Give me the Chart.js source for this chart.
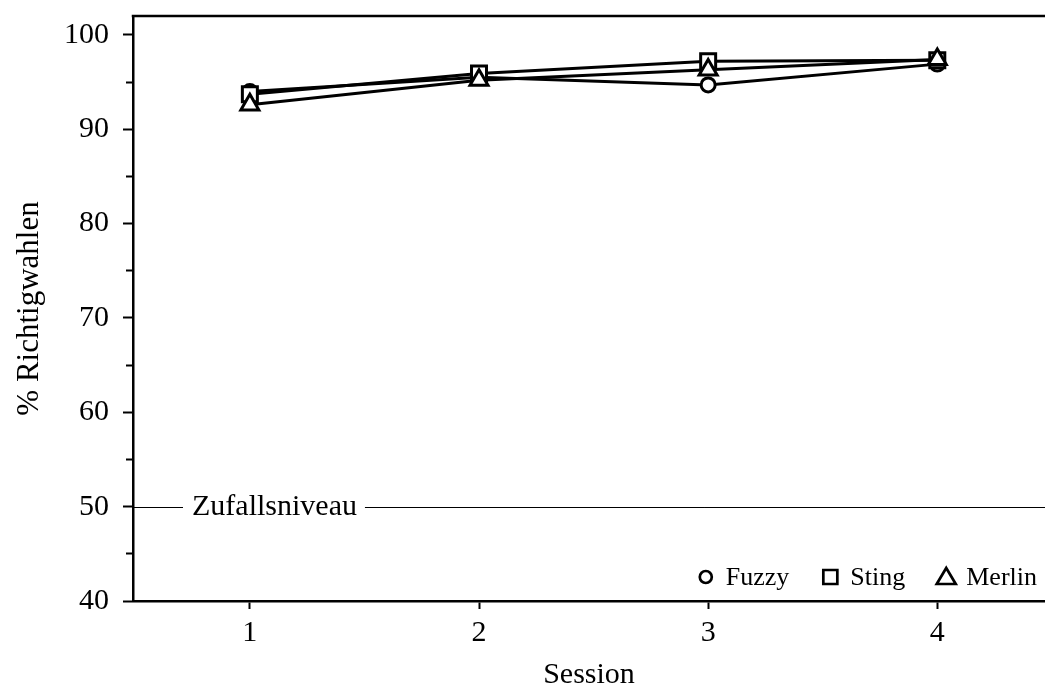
<!DOCTYPE html>
<html>
<head>
<meta charset="utf-8">
<script src="https://cdn.jsdelivr.net/npm/chart.js@4.4.1/dist/chart.umd.min.js"></script>
<style>
  html, body { margin: 0; padding: 0; background: #fff; }
  #wrap { width: 1045px; height: 685px; position: relative; }
</style>
</head>
<body>
<div id="wrap"><canvas id="richtigChart"></canvas></div>
<script>
var sessions = [1, 2, 3, 4];
var fuzzy = [94.0, 95.5, 94.7, 96.9];
var sting = [93.7, 95.9, 97.2, 97.3];
var merlin = [92.6, 95.2, 96.3, 97.4];
var yTicks = [40, 45, 50, 55, 60, 65, 70, 75, 80, 85, 90, 95, 100];
var chanceLevel = 50;
var chanceLabel = 'Zufallsniveau';

var serif = '"Liberation Serif", "DejaVu Serif", serif';
Chart.defaults.font.family = serif;
Chart.defaults.color = '#000';

function points(vals) {
    return sessions.map(function (s, i) { return { x: s, y: vals[i] }; });
}

function series(label, vals, style, radius, order) {
    return {
        label: label,
        data: points(vals),
        borderColor: '#000',
        borderWidth: 3,
        pointStyle: style,
        pointRadius: radius,
        pointBorderWidth: 3,
        pointBackgroundColor: '#fff',
        pointBorderColor: '#000',
        fill: false,
        tension: 0,
        order: order
    };
}

// top frame line
var frameTop = {
    id: 'frameTop',
    afterDraw: function (chart) {
        var a = chart.chartArea, ctx = chart.ctx;
        ctx.save();
        ctx.strokeStyle = '#000';
        ctx.lineWidth = 2.5;
        ctx.beginPath();
        ctx.moveTo(a.left - 1.25, a.top);
        ctx.lineTo(a.right, a.top);
        ctx.stroke();
        ctx.restore();
    }
};

// Zufallsniveau line with label
var chanceLine = {
    id: 'chanceLine',
    beforeDatasetsDraw: function (chart) {
        var a = chart.chartArea, ctx = chart.ctx;
        var y = Math.round(chart.scales.y.getPixelForValue(chanceLevel)) + 0.5;
        ctx.save();
        ctx.font = '30px ' + serif;
        var tx = a.left + 59;
        var tw = ctx.measureText(chanceLabel).width;
        ctx.strokeStyle = '#000';
        ctx.lineWidth = 1;
        ctx.beginPath();
        ctx.moveTo(a.left, y);
        ctx.lineTo(a.left + 50, y);
        ctx.moveTo(tx + tw + 8, y);
        ctx.lineTo(a.right, y);
        ctx.stroke();
        ctx.fillStyle = '#000';
        ctx.textBaseline = 'middle';
        ctx.fillText(chanceLabel, tx, y);
        ctx.restore();
    }
};

// legend inside the plot, bottom right
var innerLegend = {
    id: 'innerLegend',
    afterDraw: function (chart) {
        var a = chart.chartArea, ctx = chart.ctx;
        var sets = chart.data.datasets;
        ctx.save();
        ctx.font = '26px ' + serif;
        ctx.fillStyle = '#000';
        ctx.strokeStyle = '#000';
        ctx.lineWidth = 2.7;
        ctx.textBaseline = 'alphabetic';
        var cy = a.bottom - 24;
        var base = a.bottom - 16;
        var right = a.right - 8;
        for (var i = sets.length - 1; i >= 0; i--) {
            var w = ctx.measureText(sets[i].label).width;
            var tx = right - w;
            var mx = tx - 20;
            ctx.fillText(sets[i].label, tx, base);
            ctx.beginPath();
            if (sets[i].pointStyle === 'circle') {
                ctx.arc(mx, cy, 6, 0, Math.PI * 2);
            } else if (sets[i].pointStyle === 'rect') {
                ctx.rect(mx - 7, cy - 7, 14, 14);
            } else {
                ctx.moveTo(mx, cy - 9);
                ctx.lineTo(mx + 9.5, cy + 7);
                ctx.lineTo(mx - 9.5, cy + 7);
                ctx.closePath();
            }
            ctx.stroke();
            right = mx - 41;
        }
        ctx.restore();
    }
};

var ctxEl = document.getElementById('richtigChart');
var richtigChart = new Chart(ctxEl, {
    type: 'line',
    data: {
        datasets: [
            series('Fuzzy', fuzzy, 'circle', 7, 2),
            series('Sting', sting, 'rect', 10.6, 1),
            series('Merlin', merlin, 'triangle', 10.4, 0)
        ]
    },
    options: {
        responsive: true,
        maintainAspectRatio: false,
        animation: false,
        layout: {
            autoPadding: false,
            padding: { top: 16, right: 0, bottom: 0, left: 0 }
        },
        plugins: {
            legend: { display: false },
            tooltip: { enabled: false }
        },
        scales: {
            x: {
                type: 'linear',
                min: 0.49,
                max: 4.47,
                afterBuildTicks: function (axis) {
                    axis.ticks = sessions.map(function (v) { return { value: v }; });
                },
                afterFit: function (axis) {
                    axis.height = 84;
                    axis.paddingLeft = 0;
                    axis.paddingRight = 0;
                },
                grid: {
                    drawOnChartArea: false,
                    tickLength: 8,
                    tickWidth: 2,
                    tickColor: '#000'
                },
                border: { color: '#000', width: 2.5 },
                ticks: {
                    color: '#000',
                    padding: 6,
                    autoSkip: false,
                    maxRotation: 0,
                    font: { size: 30 }
                },
                title: {
                    display: true,
                    text: 'Session',
                    color: '#000',
                    padding: 0,
                    font: { size: 30, lineHeight: 0.67 }
                }
            },
            y: {
                min: 40,
                max: 102,
                afterBuildTicks: function (axis) {
                    axis.ticks = yTicks.map(function (v) { return { value: v }; });
                },
                afterFit: function (axis) {
                    axis.width = 133;
                    axis.paddingTop = 0;
                    axis.paddingBottom = 0;
                },
                grid: {
                    drawOnChartArea: false,
                    tickLength: 10,
                    tickWidth: 2,
                    tickColor: '#000',
                    tickBorderDash: function (c) {
                        return (c.tick && c.tick.value % 10 !== 0) ? [0, 3, 20] : [];
                    }
                },
                border: { color: '#000', width: 2.5 },
                ticks: {
                    color: '#000',
                    padding: 14,
                    autoSkip: false,
                    font: { size: 30 },
                    callback: function (v) { return v % 10 === 0 ? String(v) : ''; }
                },
                title: {
                    display: true,
                    text: '% Richtigwahlen',
                    color: '#000',
                    padding: 11,
                    font: { size: 31 }
                }
            }
        }
    },
    plugins: [chanceLine, frameTop, innerLegend]
});
</script>
</body>
</html>
